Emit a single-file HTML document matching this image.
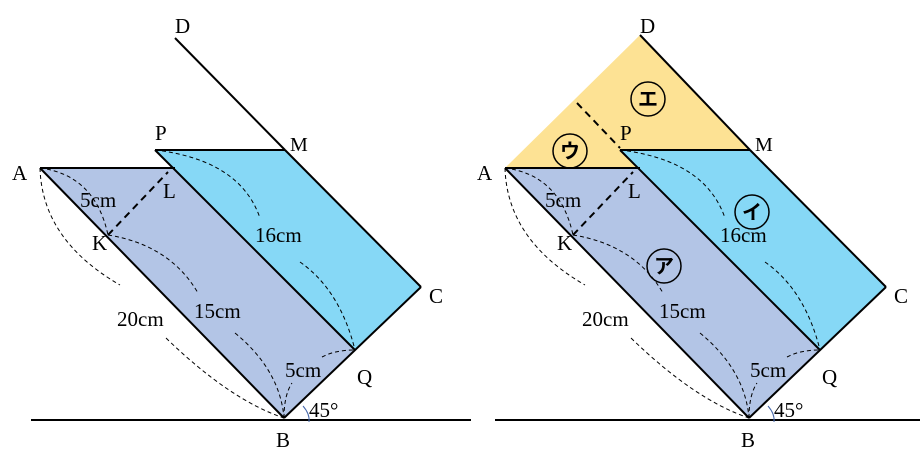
<!DOCTYPE html>
<html><head><meta charset="utf-8"><style>
body{margin:0;background:#fff}
text{font-family:"Liberation Serif","Noto Serif CJK SC",serif;font-size:21px;fill:#000}
.j{font-family:"Liberation Sans","Noto Sans CJK JP",sans-serif;font-size:20px;font-weight:bold}
</style></head><body>
<svg width="921" height="459" viewBox="0 0 921 459" xmlns="http://www.w3.org/2000/svg">
<defs>
<g id="fig">
<polygon points="40,168 175,168 355,350 284,418" fill="#b3c5e6"/>
<polygon points="155,150 285,150 421,287 355,350" fill="#86d8f6"/>
<g stroke="#000" stroke-width="2" fill="none">
<line x1="40" y1="168" x2="175" y2="168"/>
<line x1="155" y1="150" x2="285" y2="150"/>
<line x1="40" y1="168" x2="284" y2="418"/>
<line x1="155" y1="150" x2="355" y2="350"/>
<line x1="284" y1="418" x2="421" y2="287"/>
<line x1="285" y1="150" x2="421" y2="287"/>
<line x1="108" y1="235" x2="168" y2="172" stroke-dasharray="7,5"/>
</g>
<g stroke="#000" stroke-width="1" fill="none" stroke-dasharray="4,3">
<path d="M40,168 Q95,175 108,235"/>
<path d="M40,168 Q42,240 120,285"/>
<path d="M166,338 Q230,400 284,418"/>
<path d="M108,235 Q170,245 198,293"/>
<path d="M235,333 Q280,370 284,418"/>
<path d="M155,150 Q240,160 260,218"/>
<path d="M300,262 Q340,290 355,350"/>
<path d="M322,357 Q335,350 355,350"/>
<path d="M284,418 Q284,395 292,383"/>
</g>
<path d="M303,406 Q310,414 309,422" stroke="#4466aa" fill="none" stroke-width="1"/>
<text x="12" y="180">A</text>
<text x="155" y="140">P</text>
<text x="290" y="151" style="font-size:20px">M</text>
<text x="163" y="198">L</text>
<text x="92" y="250">K</text>
<text x="80" y="207">5cm</text>
<text x="255" y="242">16cm</text>
<text x="117" y="326">20cm</text>
<text x="194" y="318">15cm</text>
<text x="285" y="377">5cm</text>
<text x="357" y="384">Q</text>
<text x="429" y="303">C</text>
<text x="309" y="417">45°</text>
<text x="276" y="447">B</text>
</g>
</defs>
<line x1="31" y1="420" x2="471" y2="420" stroke="#000" stroke-width="2"/>
<line x1="175" y1="38" x2="285" y2="150" stroke="#000" stroke-width="2"/>
<text x="175" y="33">D</text>
<use href="#fig"/>
<polygon points="505,168 640,35 750,150 620,150 637,168" fill="#fde294"/>
<line x1="495" y1="420" x2="920" y2="420" stroke="#000" stroke-width="2"/>
<line x1="640" y1="35" x2="750" y2="150" stroke="#000" stroke-width="2"/>
<line x1="577" y1="103" x2="620" y2="148" stroke="#000" stroke-width="2" stroke-dasharray="7,5"/>
<text x="640" y="33">D</text>
<use href="#fig" transform="translate(465,0)"/>
<g fill="none" stroke="#000" stroke-width="1.5">
<circle cx="648" cy="99" r="17"/><circle cx="570" cy="151" r="17"/>
<circle cx="752" cy="212" r="17"/><circle cx="664" cy="266" r="17"/>
</g>
<text class="j" x="638" y="106">エ</text>
<text class="j" x="560" y="158">ウ</text>
<text class="j" x="742" y="219">イ</text>
<text class="j" x="654" y="273">ア</text>
</svg>
</body></html>
